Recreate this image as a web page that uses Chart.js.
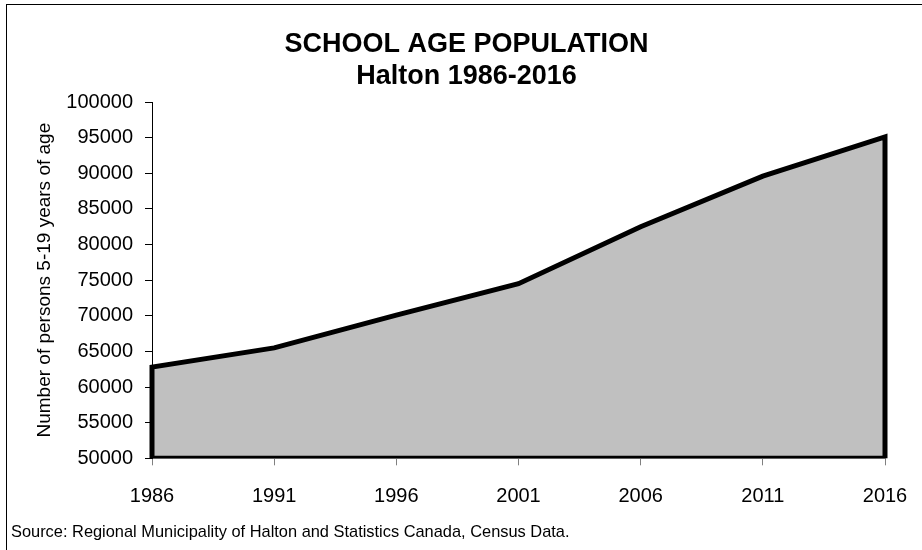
<!DOCTYPE html>
<html>
<head>
<meta charset="utf-8">
<title>School Age Population - Halton 1986-2016</title>
<script src="https://cdn.jsdelivr.net/npm/chart.js@4/dist/chart.umd.min.js"></script>
<style>
  html, body { margin: 0; padding: 0; background: #fff; }
  #wrap { position: relative; width: 922px; height: 550px; overflow: hidden; }
  #frame {
    position: absolute; left: 6px; top: 4px; width: 940px; height: 570px;
    border-left: 1.5px solid #000; border-top: 1.5px solid #000; box-sizing: border-box;
    pointer-events: none;
  }
  canvas { position: absolute; left: 0; top: 0; }
</style>
</head>
<body>
<div id="wrap">
  <canvas id="chart" width="922" height="550"></canvas>
  <div id="frame"></div>
</div>
<script>
// Census years and school-age (5-19) population in Halton
const years = [1986, 1991, 1996, 2001, 2006, 2011, 2016];
const population = [62800, 65500, 70100, 74500, 82500, 89600, 95100];

// Value axis range and tick labels
const yMin = 50000;
const yMax = 100000;
const yTicks = [50000, 55000, 60000, 65000, 70000, 75000, 80000, 85000, 90000, 95000, 100000];

const chartTitle = ['SCHOOL AGE POPULATION', 'Halton 1986-2016'];
const yAxisTitle = 'Number of persons 5-19 years of age';
const sourceNote = 'Source: Regional Municipality of Halton and Statistics Canada, Census Data.';

const FONT = "'Liberation Sans', Arial, Helvetica, sans-serif";

// Top edge of the area, plus a closed outline (down the sides and along the base)
const topEdge = years.map((yr, i) => ({ x: yr, y: population[i] }));
const outline = [
  { x: years[0], y: yMin },
  ...topEdge,
  { x: years[years.length - 1], y: yMin },
  { x: years[0], y: yMin }
];

new Chart(document.getElementById('chart'), {
  type: 'line',
  data: {
    datasets: [
      {
        label: 'outline',
        data: outline,
        borderColor: '#000',
        borderWidth: 5,
        borderJoinStyle: 'miter',
        borderCapStyle: 'square',
        fill: false,
        pointRadius: 0,
        tension: 0,
        clip: { left: 8, top: 8, right: 8, bottom: 0 }
      },
      {
        label: 'School age population',
        data: topEdge,
        borderWidth: 0,
        backgroundColor: '#c0c0c0',
        fill: 'start',
        pointRadius: 0,
        tension: 0
      }
    ]
  },
  options: {
    responsive: false,
    devicePixelRatio: 1,
    animation: false,
    layout: { padding: { left: 11, right: 0, top: 29.5, bottom: 8 } },
    plugins: {
      legend: { display: false },
      tooltip: { enabled: false },
      title: {
        display: true,
        text: chartTitle,
        color: '#000',
        font: { family: FONT, size: 27, weight: 'bold', lineHeight: 1.15 },
        padding: { top: 0, bottom: 10.4 }
      },
      subtitle: {
        display: true,
        text: sourceNote,
        position: 'bottom',
        align: 'start',
        color: '#000',
        font: { family: FONT, size: 16.4, lineHeight: 1.2 },
        padding: { top: 0, bottom: 0 }
      }
    },
    scales: {
      x: {
        type: 'linear',
        min: years[0],
        max: years[years.length - 1],
        afterBuildTicks: (s) => { s.ticks = years.map(v => ({ value: v })); },
        afterFit: (s) => { s.height = 64; s.paddingLeft = 0; s.paddingRight = 0; },
        border: { display: true, color: '#808080', width: 1 },
        grid: { display: true, drawOnChartArea: false, drawTicks: true, tickLength: 7, color: '#808080' },
        ticks: {
          color: '#000',
          padding: 19,
          maxRotation: 0,
          autoSkip: false,
          font: { family: FONT, size: 20 },
          callback: (v) => String(v)
        }
      },
      y: {
        type: 'linear',
        min: yMin,
        max: yMax,
        afterBuildTicks: (s) => { s.ticks = yTicks.map(v => ({ value: v })); },
        afterFit: (s) => { s.width = 141; },
        border: { display: true, color: '#000', width: 1 },
        grid: { display: true, drawOnChartArea: false, drawTicks: true, tickLength: 7, color: '#000' },
        ticks: {
          color: '#000',
          padding: 12,
          autoSkip: false,
          font: { family: FONT, size: 20 },
          callback: (v) => String(v)
        },
        title: {
          display: true,
          text: yAxisTitle,
          color: '#000',
          font: { family: FONT, size: 19, lineHeight: 1.2 },
          padding: { top: 22, bottom: 0 }
        }
      },
      yRight: {
        type: 'linear',
        position: 'right',
        min: yMin,
        max: yMax,
        display: true,
        afterFit: (s) => { s.width = 37; },
        border: { display: false },
        grid: { display: false },
        ticks: { display: false }
      }
    }
  }
});
</script>
</body>
</html>
